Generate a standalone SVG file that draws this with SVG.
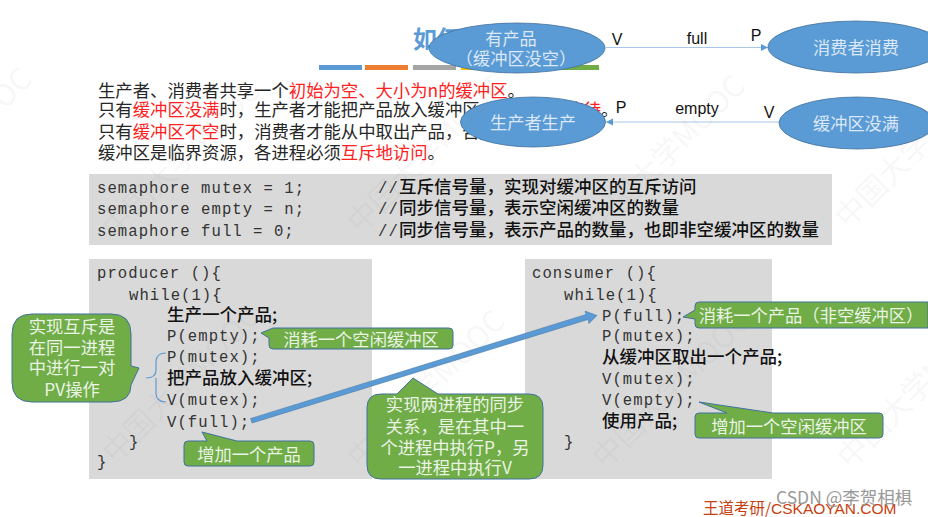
<svg xmlns="http://www.w3.org/2000/svg" width="928" height="517" viewBox="0 0 928 517">
<style>
text{font-family:"Noto Sans CJK SC","Liberation Sans",sans-serif}
.p{font-size:17.35px;fill:#262626}
.r{fill:#ff2020}
.m{font-family:"Liberation Mono","Noto Sans CJK SC",monospace;font-size:15.6px;fill:#333;letter-spacing:1.05px}
.c{font-size:17.5px;fill:#111;font-weight:500}
.box{fill:#d9d9d9}
.e{fill:#5b9bd5;stroke:#41719c;stroke-width:.8}
.et{font-size:17.2px;fill:#dce8f5;text-anchor:middle}
.g{fill:#70ad47;stroke:#41719c;stroke-width:1}
.gt{font-size:17.3px;fill:#eaf3e4;text-anchor:middle}
.l{font-family:"Liberation Sans",sans-serif;font-size:16px;fill:#111;text-anchor:middle}
.w{font-size:30px;fill:#808080;fill-opacity:.08}
</style>
<defs>
<marker id="a" markerWidth="8" markerHeight="8" refX="7" refY="3.5" orient="auto" markerUnits="userSpaceOnUse"><path d="M0,0L7,3.5L0,7z" fill="#5b9bd5"/></marker>
</defs>

<text x="413" y="48" font-weight="700" fill="#5b9bd5" style="font-size:24px">如何</text>
<g id="title-bars">
<rect x="319" y="65" width="43" height="5" fill="#5b9bd5"/>
<rect x="365" y="65" width="43" height="5" fill="#ed7d31"/>
<rect x="413" y="65" width="43" height="5" fill="#a5a5a5"/>
<rect x="461" y="65" width="43" height="5" fill="#ffc000"/>
<rect x="508" y="65" width="91" height="5" fill="#70ad47"/>
</g>

<g id="intro">
<text class="p" x="98" y="97">生产者、消费者共享一个<tspan class="r">初始为空、大小为n的缓冲区</tspan>。</text>
<text class="p" x="98" y="116">只有<tspan class="r">缓冲区没满</tspan>时，生产者才能把产品放入缓冲区，否则<tspan class="r">必须等待</tspan>。</text>
<text class="p" x="98" y="138">只有<tspan class="r">缓冲区不空</tspan>时，消费者才能从中取出产品，否则<tspan class="r">必须等待</tspan>。</text>
<text class="p" x="98" y="159">缓冲区是临界资源，各进程必须<tspan class="r">互斥地访问</tspan>。</text>
</g>

<g id="semaphores">
<rect class="box" x="89" y="174" width="743" height="71"/>
<text class="m" x="97" y="193">semaphore mutex = 1;</text>
<text class="m" x="97" y="214">semaphore empty = n;</text>
<text class="m" x="97" y="236">semaphore full = 0;</text>
<text class="m" x="378" y="193">//</text><text class="c" x="399" y="193">互斥信号量，实现对缓冲区的互斥访问</text>
<text class="m" x="378" y="214">//</text><text class="c" x="399" y="214">同步信号量，表示空闲缓冲区的数量</text>
<text class="m" x="378" y="236">//</text><text class="c" x="399" y="236">同步信号量，表示产品的数量，也即非空缓冲区的数量</text>
</g>

<g id="producer">
<rect class="box" x="89" y="259" width="283" height="220"/>
<text class="m" x="97" y="278">producer ()<tspan>{</tspan></text>
<text class="m" x="129" y="300">while(1){</text>
<text class="c" x="167" y="321">生产一个产品;</text>
<text class="m" x="167" y="341">P(empty);</text>
<text class="m" x="167" y="362">P(mutex);</text>
<text class="c" x="167" y="384">把产品放入缓冲区;</text>
<text class="m" x="167" y="405">V(mutex);</text>
<text class="m" x="167" y="427">V(full);</text>
<text class="m" x="129" y="447">}</text>
<text class="m" x="97" y="467">}</text>
</g>

<g id="consumer">
<rect class="box" x="525" y="259" width="247" height="220"/>
<text class="m" x="532" y="278">consumer ()<tspan>{</tspan></text>
<text class="m" x="564" y="300">while(1){</text>
<text class="m" x="602" y="321">P(full);</text>
<text class="m" x="602" y="341">P(mutex);</text>
<text class="c" x="602" y="363">从缓冲区取出一个产品;</text>
<text class="m" x="602" y="384">V(mutex);</text>
<text class="m" x="602" y="405">V(empty);</text>
<text class="c" x="602" y="427">使用产品;</text>
<text class="m" x="564" y="447">}</text>
</g>

<g id="connectors">
<line x1="606" y1="47.5" x2="768" y2="47.5" stroke="#a9c7e8" stroke-width="1.2" marker-end="url(#a)"/>
<line x1="779" y1="122" x2="606" y2="122" stroke="#a9c7e8" stroke-width="1.2" marker-end="url(#a)"/>
<path d="M166,353Q156,353 156,362V370Q156,378 146,378M156,378V393Q156,402 166,402" fill="none" stroke="#5b9bd5" stroke-width="1.2"/>
<path d="M250.5,418.5L586,314.5L585,311L597,315.5L589,323.5L588,319.5L252,423z" fill="#5b9bd5" stroke="#41719c" stroke-width=".5"/>
</g>

<g id="ellipse-product"><ellipse class="e" cx="517" cy="48" rx="88" ry="25"/>
<text class="et" x="511" y="45">有产品</text><text class="et" x="516" y="65">（缓冲区没空）</text></g>
<g id="ellipse-consume"><ellipse class="e" cx="856" cy="47" rx="88" ry="26"/><text class="et" x="856" y="54">消费者消费</text></g>
<g id="ellipse-produce"><ellipse class="e" cx="533" cy="122" rx="72.5" ry="25"/><text class="et" x="533" y="129">生产者生产</text></g>
<g id="ellipse-notfull"><ellipse class="e" cx="857" cy="123" rx="78" ry="26"/><text class="et" x="856" y="130">缓冲区没满</text></g>

<g id="labels">
<text class="l" x="617" y="45">V</text>
<text class="l" x="697" y="44">full</text>
<text class="l" x="756" y="41">P</text>
<text class="l" x="621" y="113">P</text>
<text class="l" x="697" y="114">empty</text>
<text class="l" x="769" y="118">V</text>
</g>

<g id="callout-mutex"><path class="g" d="M32,314H111Q131,314 131,334V366L139,368L131,385Q131,402 111,402H32Q12,402 12,382V334Q12,314 32,314z"/>
<text class="gt" x="72" y="333">实现互斥是</text><text class="gt" x="72" y="354">在同一进程</text><text class="gt" x="72" y="374">中进行一对</text><text class="gt" x="72" y="396">PV操作</text></g>
<g id="callout-empty"><path class="g" d="M273,328H449Q453,328 453,332V345Q453,349 449,349H273Q269,349 269,345V338L261,333z"/>
<text class="gt" x="361" y="346">消耗一个空闲缓冲区</text></g>
<g id="callout-full"><path class="g" d="M188,441H207L202,432L237,441H310Q314,441 314,445V462Q314,466 310,466H188Q184,466 184,462V445Q184,441 188,441z"/>
<text class="gt" x="249" y="461">增加一个产品</text></g>
<g id="callout-sync"><path class="g" d="M381,394H397L413,378L438,394H529Q543,394 543,408V465Q543,479 529,479H381Q367,479 367,465V408Q367,394 381,394z"/>
<text class="gt" x="455" y="411">实现两进程的同步</text><text class="gt" x="455" y="433">关系，是在其中一</text><text class="gt" x="455" y="454">个进程中执行P，另</text><text class="gt" x="455" y="474">一进程中执行V</text></g>
<g id="callout-consume"><path class="g" d="M699,302H928V328H699Q695,328 695,324V319L683,317L695,310V306Q695,302 699,302z"/>
<text class="gt" x="811" y="322">消耗一个产品（非空缓冲区）</text></g>
<g id="callout-inc"><path class="g" d="M699,413H727L699,402L773,413H879Q883,413 883,417V434Q883,438 879,438H699Q695,438 695,434V417Q695,413 699,413z"/>
<text class="gt" x="789" y="433">增加一个空闲缓冲区</text></g>

<g id="footer">
<text x="703" y="514" style="font-size:15.5px" fill="#c8400f">王道考研/<tspan font-family="Liberation Sans">CSKAOYAN.COM</tspan></text>
<text x="776" y="504" style="font-size:17.5px" fill="#999">CSDN @李贺相椇</text>
</g>

<g id="watermarks">
<text class="w" transform="translate(-113,228) rotate(-45)">中国大学MOOC</text>
<text class="w" transform="translate(115,240) rotate(-45)">中国大学MOOC</text>
<text class="w" transform="translate(360,235) rotate(-45)">中国大学MOOC</text>
<text class="w" transform="translate(600,235) rotate(-45)">中国大学MOOC</text>
<text class="w" transform="translate(848,230) rotate(-45)">中国大学MOOC</text>
<text class="w" transform="translate(115,465) rotate(-45)">中国大学MOOC</text>
<text class="w" transform="translate(360,470) rotate(-45)">中国大学MOOC</text>
<text class="w" transform="translate(605,470) rotate(-45)">中国大学MOOC</text>
<text class="w" transform="translate(850,470) rotate(-45)">中国大学MOOC</text>
</g>
</svg>
